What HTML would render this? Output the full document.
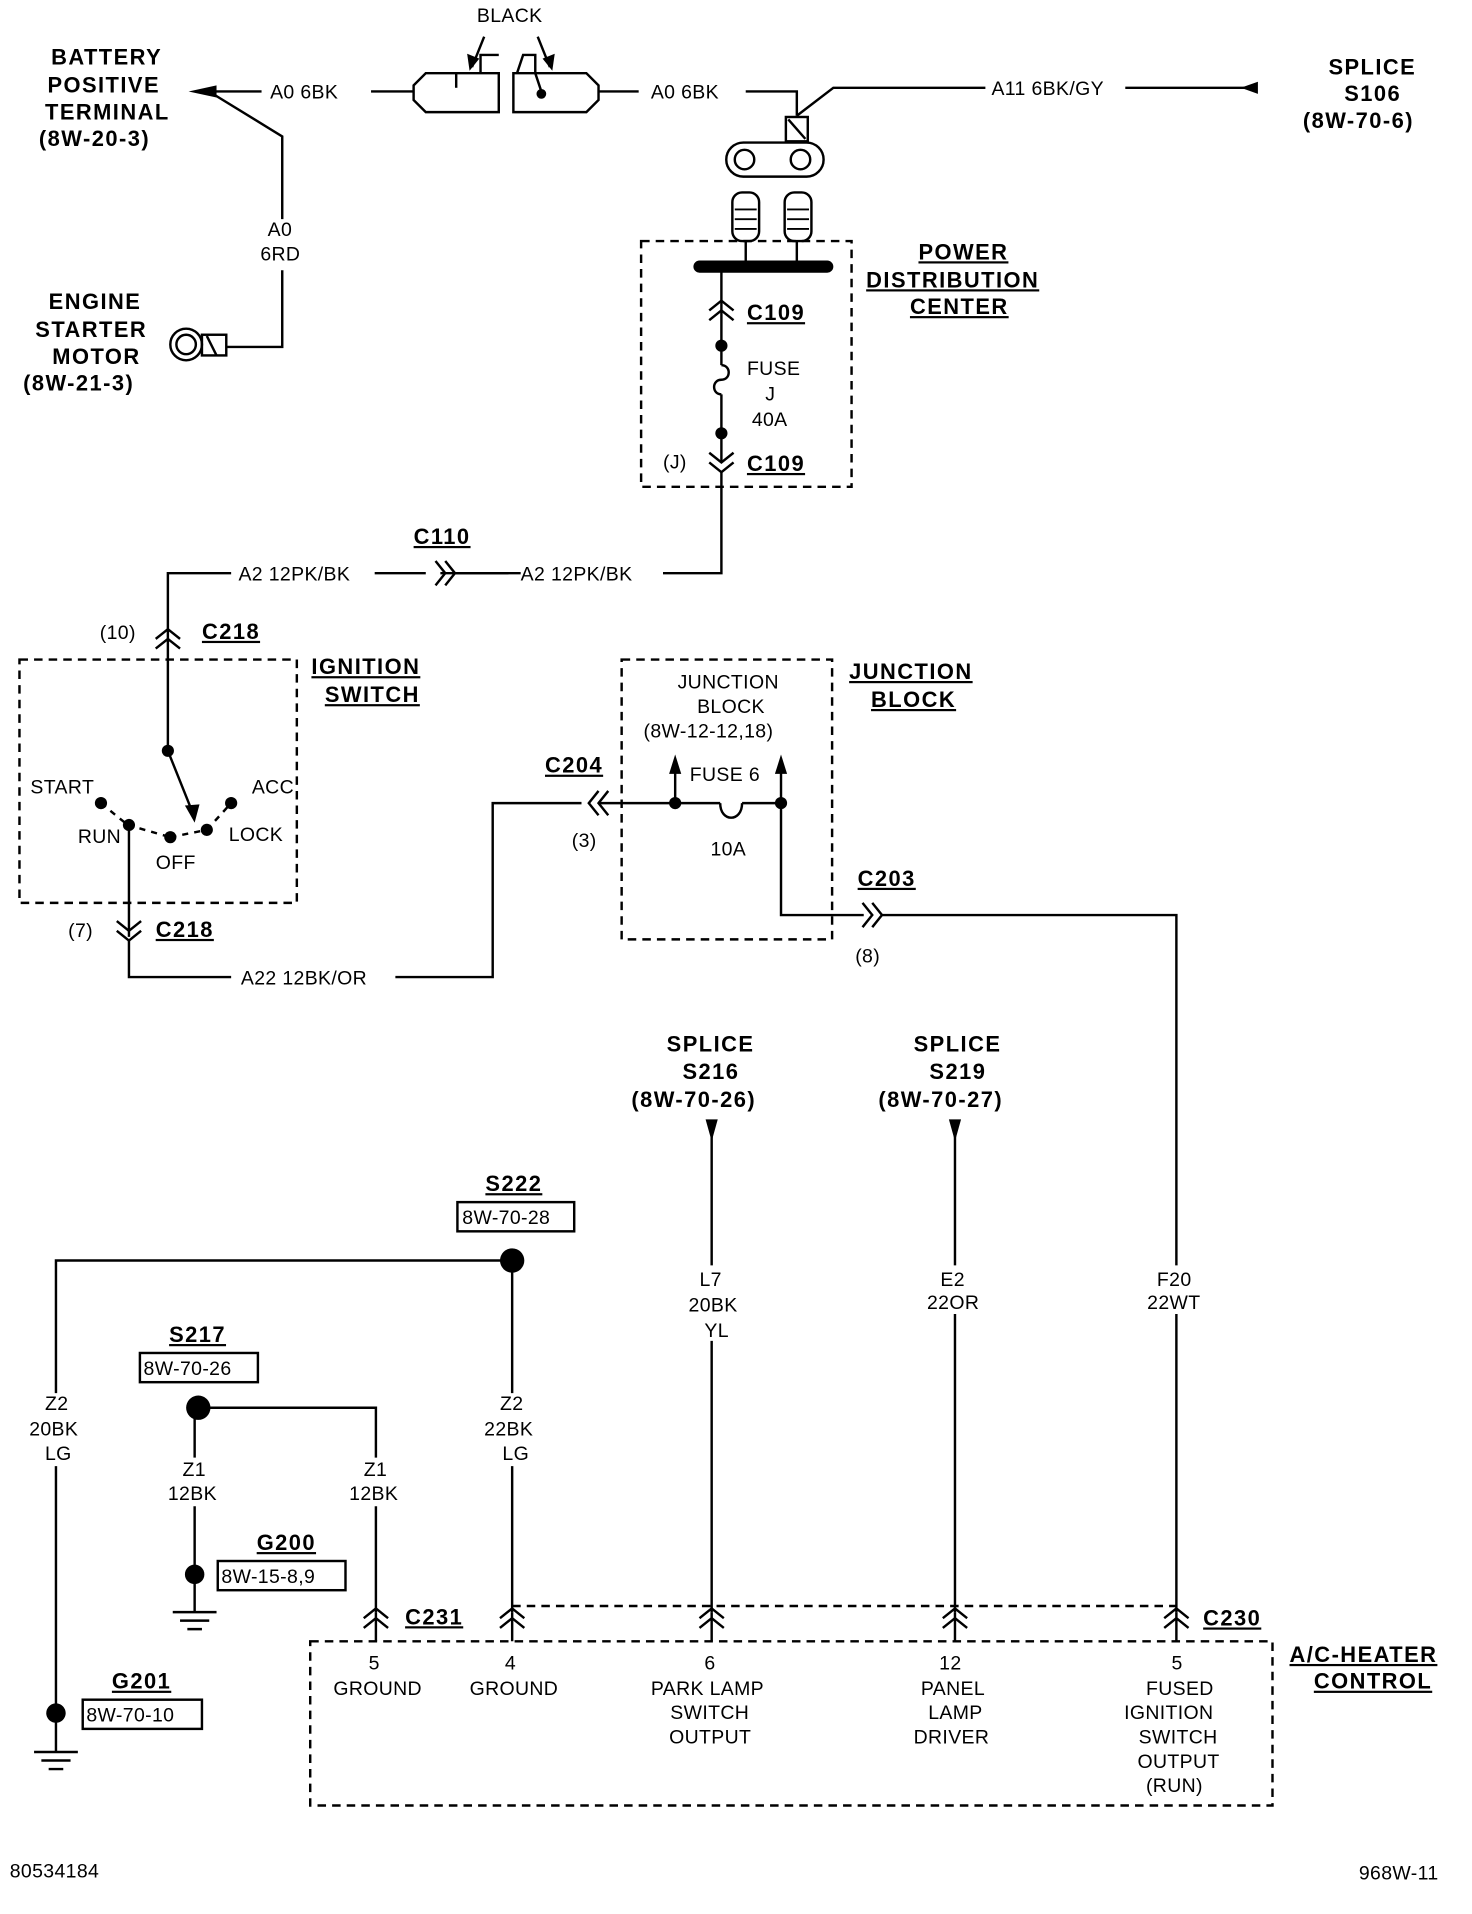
<!DOCTYPE html>
<html><head><meta charset="utf-8"><style>
html,body{margin:0;padding:0;background:#fff}
svg{display:block}
text{font-family:"Liberation Sans",sans-serif;fill:#000}
.t{font-size:16px;letter-spacing:0.3px}
.b{font-size:18px;font-weight:bold;letter-spacing:1.2px}
.u{text-decoration:underline}
</style></head><body>
<svg width="1472" height="1914" viewBox="0 0 1210 1573" xmlns="http://www.w3.org/2000/svg">
<rect width="1210" height="1573" fill="#fff"/>
<g stroke="#000" stroke-width="2" fill="none">
<line x1="175" y1="75" x2="215" y2="75"/>
<line x1="305" y1="75" x2="340" y2="75"/>
<polygon points="350,60 410,60 410,92 350,92 340,82 340,70"/>
<polyline points="395,60 395,45 410,45"/>
<line x1="375" y1="60" x2="375" y2="72"/>
<polygon points="422,60 482,60 492,70 492,82 482,92 422,92"/>
<polyline points="425,60 430,45 440,45 440,60"/>
<line x1="440" y1="60" x2="445" y2="75"/>
<line x1="492" y1="75" x2="525" y2="75"/>
<line x1="398" y1="30" x2="388" y2="55"/>
<line x1="442" y1="30" x2="452" y2="55"/>
<polyline points="613,75 655,75 655,95"/>
<polyline points="655,95 685,72 810,72"/>
<line x1="925" y1="72" x2="1033" y2="72"/>
<polyline points="175,77 232,112 232,180"/>
<polyline points="232,222 232,285 187,285"/>
<circle cx="153" cy="283" r="13"/><circle cx="153" cy="283" r="8"/>
<rect x="166" y="275" width="20" height="17"/><line x1="170" y1="276" x2="178" y2="292"/>
<rect x="646" y="96" width="18" height="20"/><line x1="648" y1="98" x2="662" y2="114"/>
<rect x="597" y="117" width="80" height="28" rx="14"/>
<circle cx="612" cy="131" r="8"/><circle cx="658" cy="131" r="8"/>
<rect x="602" y="158" width="22" height="40" rx="8"/><rect x="645" y="158" width="22" height="40" rx="8"/>
<path d="M604 172h18M604 180h18M604 188h18M647 172h18M647 180h18M647 188h18" stroke-width="1.5"/>
<line x1="613" y1="198" x2="613" y2="215"/><line x1="655" y1="198" x2="655" y2="215"/>
<rect x="527" y="198" width="173" height="202" stroke-dasharray="7,5"/>
<line x1="593" y1="219" x2="593" y2="280"/>
<path d="M583 255l10-8 10 8M583 263l10-8 10 8"/>
<line x1="593" y1="284" x2="593" y2="300"/>
<path d="M593 300c8 0 8 12 0 12s-8 12 0 12" />
<line x1="593" y1="324" x2="593" y2="380"/>
<path d="M583 372l10 8 10-8M583 380l10 8 10-8"/>
<polyline points="593,388 593,471 545,471"/>
<line x1="428" y1="471" x2="362" y2="471"/>
<line x1="308" y1="471" x2="350" y2="471"/>
<path d="M358 461l8 10-8 10M366 461l8 10-8 10"/>
<line x1="374" y1="471" x2="418" y2="471"/>
<polyline points="190,471 138,471 138,615"/>
<path d="M128 525l10-8 10 8M128 533l10-8 10 8"/>
<rect x="16" y="542" width="228" height="200" stroke-dasharray="7,5"/>
<line x1="138" y1="617" x2="160" y2="672"/>
<path d="M83 660l22 18M105 678l35 10M140 688l30-6M170 682l20-22" stroke-dasharray="5,5"/>
<polyline points="106,678 106,770"/>
<path d="M96 757l10 8 10-8M96 765l10 8 10-8"/>
<polyline points="106,773 106,803 190,803"/>
<polyline points="325,803 405,803 405,660 478,660"/>
<path d="M492 650l-8 10 8 10M500 650l-8 10 8 10"/>
<line x1="492" y1="660" x2="592" y2="660"/>
<line x1="610" y1="660" x2="642" y2="660"/>
<path d="M592 660c0 16 18 16 18 0"/>
<line x1="555" y1="660" x2="555" y2="628"/><line x1="642" y1="660" x2="642" y2="628"/>
<rect x="511" y="542" width="173" height="230" stroke-dasharray="7,5"/>
<polyline points="642,660 642,752 710,752"/>
<path d="M709 742l8 10-8 10M717 742l8 10-8 10"/>
<polyline points="725,752 967,752 967,1040"/>
<line x1="967" y1="1080" x2="967" y2="1325"/>
<line x1="585" y1="930" x2="585" y2="1040"/><line x1="585" y1="1102" x2="585" y2="1325"/>
<line x1="785" y1="930" x2="785" y2="1040"/><line x1="785" y1="1080" x2="785" y2="1325"/>
<rect x="376" y="988" width="96" height="24"/>
<polyline points="421,1036 46,1036 46,1145"/>
<line x1="46" y1="1205" x2="46" y2="1410"/>
<line x1="421" y1="1036" x2="421" y2="1145"/><line x1="421" y1="1205" x2="421" y2="1325"/>
<rect x="115" y="1112" width="97" height="24"/>
<polyline points="163,1157 309,1157 309,1198"/><line x1="309" y1="1238" x2="309" y2="1325"/>
<line x1="160" y1="1157" x2="160" y2="1198"/><line x1="160" y1="1238" x2="160" y2="1325"/>
<rect x="179" y="1283" width="105" height="24"/>
<rect x="68" y="1397" width="98" height="24"/>
<path d="M142 1325h36M148 1332h24M154 1339h12"/>
<line x1="46" y1="1410" x2="46" y2="1440"/>
<path d="M28 1440h36M34 1447h24M40 1454h12"/>
<path d="M421 1320h546" stroke-dasharray="7,5"/>
<rect x="255" y="1349" width="791" height="135" stroke-dasharray="7,5"/>
<path d="M299 1330l10-8 10 8M299 1338l10-8 10 8M411 1330l10-8 10 8M411 1338l10-8 10 8M575 1330l10-8 10 8M575 1338l10-8 10 8M775 1330l10-8 10 8M775 1338l10-8 10 8M957 1330l10-8 10 8M957 1338l10-8 10 8"/>
<path d="M309 1325v24M421 1325v24M585 1325v24M785 1325v24M967 1325v24"/>
</g>
<g fill="#000">
<polygon points="155,75 178,70 178,80"/>
<polygon points="1020,72 1034,67 1034,77"/>
<polygon points="386,58 384,44 394,48"/>
<polygon points="454,58 446,48 456,44"/>
<polygon points="160,676 152,662 164,661"/>
<circle cx="445" cy="77" r="4"/>
<rect x="570" y="214" width="115" height="10" rx="5"/>
<circle cx="593" cy="284" r="5"/><circle cx="593" cy="356" r="5"/>
<circle cx="138" cy="617" r="5"/><circle cx="83" cy="660" r="5"/><circle cx="106" cy="678" r="5"/>
<circle cx="140" cy="688" r="5"/><circle cx="170" cy="682" r="5"/><circle cx="190" cy="660" r="5"/>
<circle cx="555" cy="660" r="5"/><circle cx="642" cy="660" r="5"/>
<polygon points="555,620 550,636 560,636"/><polygon points="642,620 637,636 647,636"/>
<polygon points="580,920 590,920 585,938"/><polygon points="780,920 790,920 785,938"/>
<circle cx="421" cy="1036" r="10"/><circle cx="163" cy="1157" r="10"/>
<circle cx="160" cy="1294" r="8"/><circle cx="46" cy="1408" r="8"/>
</g>
<g class="t">
<text x="392" y="18">BLACK</text>
<text x="222" y="81">A0 6BK</text>
<text x="535" y="81">A0 6BK</text>
<text x="815" y="78">A11 6BK/GY</text>
<text x="220" y="194">A0</text><text x="214" y="214">6RD</text>
<text x="614" y="308">FUSE</text><text x="629" y="329">J</text><text x="618" y="350">40A</text>
<text x="545" y="385">(J)</text>
<text x="196" y="477">A2 12PK/BK</text><text x="428" y="477">A2 12PK/BK</text>
<text x="82" y="525">(10)</text>
<text x="25" y="652">START</text><text x="207" y="652">ACC</text>
<text x="64" y="693">RUN</text><text x="188" y="691">LOCK</text><text x="128" y="714">OFF</text>
<text x="56" y="770">(7)</text>
<text x="198" y="809">A22 12BK/OR</text>
<text x="557" y="566">JUNCTION</text><text x="573" y="586">BLOCK</text><text x="529" y="606">(8W-12-12,18)</text>
<text x="567" y="642">FUSE 6</text><text x="584" y="703">10A</text>
<text x="470" y="696">(3)</text><text x="703" y="791">(8)</text>
<text x="575" y="1057">L7</text><text x="566" y="1078">20BK</text><text x="579" y="1099">YL</text>
<text x="773" y="1057">E2</text><text x="762" y="1076">22OR</text>
<text x="951" y="1057">F20</text><text x="943" y="1076">22WT</text>
<text x="380" y="1006">8W-70-28</text>
<text x="37" y="1159">Z2</text><text x="24" y="1180">20BK</text><text x="37" y="1200">LG</text>
<text x="411" y="1159">Z2</text><text x="398" y="1180">22BK</text><text x="413" y="1200">LG</text>
<text x="118" y="1130">8W-70-26</text>
<text x="150" y="1213">Z1</text><text x="138" y="1233">12BK</text>
<text x="299" y="1213">Z1</text><text x="287" y="1233">12BK</text>
<text x="182" y="1301">8W-15-8,9</text>
<text x="71" y="1415">8W-70-10</text>
<text x="303" y="1372">5</text><text x="274" y="1393">GROUND</text>
<text x="415" y="1372">4</text><text x="386" y="1393">GROUND</text>
<text x="579" y="1372">6</text><text x="535" y="1393">PARK LAMP</text><text x="551" y="1413">SWITCH</text><text x="550" y="1433">OUTPUT</text>
<text x="772" y="1372">12</text><text x="757" y="1393">PANEL</text><text x="763" y="1413">LAMP</text><text x="751" y="1433">DRIVER</text>
<text x="963" y="1372">5</text><text x="942" y="1393">FUSED</text><text x="924" y="1413">IGNITION</text><text x="936" y="1433">SWITCH</text><text x="935" y="1453">OUTPUT</text><text x="942" y="1473">(RUN)</text>
<text x="8" y="1543">80534184</text><text x="1117" y="1545">968W-11</text>
</g>
<g class="b">
<text x="42" y="53">BATTERY</text><text x="39" y="76">POSITIVE</text><text x="37" y="98">TERMINAL</text><text x="32" y="120">(8W-20-3)</text>
<text x="40" y="254">ENGINE</text><text x="29" y="277">STARTER</text><text x="43" y="299">MOTOR</text><text x="19" y="321">(8W-21-3)</text>
<text x="1092" y="61">SPLICE</text><text x="1105" y="83">S106</text><text x="1071" y="105">(8W-70-6)</text>
<text x="755" y="213" class="u">POWER</text><text x="712" y="236" class="u">DISTRIBUTION</text><text x="748" y="258" class="u">CENTER</text>
<text x="614" y="263" class="u">C109</text><text x="614" y="387" class="u">C109</text>
<text x="340" y="447" class="u">C110</text>
<text x="166" y="525" class="u">C218</text><text x="128" y="770" class="u">C218</text>
<text x="256" y="554" class="u">IGNITION</text><text x="267" y="577" class="u">SWITCH</text>
<text x="698" y="558" class="u">JUNCTION</text><text x="716" y="581" class="u">BLOCK</text>
<text x="448" y="635" class="u">C204</text><text x="705" y="728" class="u">C203</text>
<text x="548" y="864">SPLICE</text><text x="561" y="887">S216</text><text x="519" y="910">(8W-70-26)</text>
<text x="751" y="864">SPLICE</text><text x="764" y="887">S219</text><text x="722" y="910">(8W-70-27)</text>
<text x="399" y="979" class="u">S222</text><text x="139" y="1103" class="u">S217</text>
<text x="211" y="1274" class="u">G200</text><text x="92" y="1388" class="u">G201</text>
<text x="333" y="1335" class="u">C231</text><text x="989" y="1336" class="u">C230</text>
<text x="1060" y="1366" class="u">A/C-HEATER</text><text x="1080" y="1388" class="u">CONTROL</text>
</g>
</svg>
</body></html>
